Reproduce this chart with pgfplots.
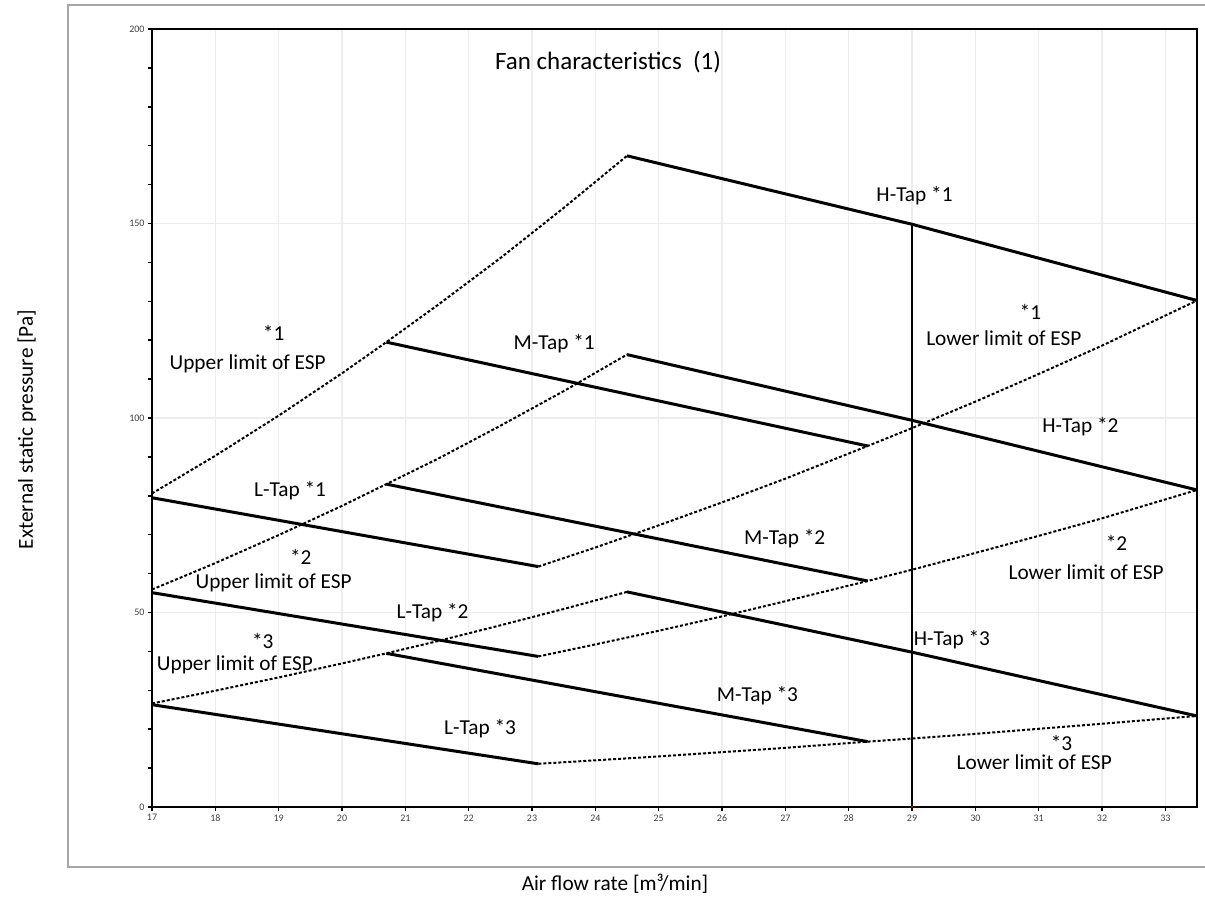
\documentclass[border=0pt]{standalone}
\usepackage{fontspec}
\setmainfont{Carlito}
\usepackage{pgfplots}
\pgfplotsset{compat=1.18}
\begin{document}
\begin{tikzpicture}[x=1pt,y=1pt,
  lbl/.style={font=\fontsize{21.3}{25}\selectfont, inner sep=0pt},
  tap/.style={black, line width=3pt},
  lim/.style={black, line width=2pt, dash pattern=on 3pt off 2pt}]
\path[use as bounding box] (0,0) rectangle (1205,902);
% outer chart frame
\draw[color=black!35, line width=1.3pt] (1206,35) -- (68,35) -- (68,897) -- (1206,897);
\begin{axis}[
  at={(152pt,95pt)}, anchor=south west,
  scale only axis, width=1045pt, height=778pt,
  xmin=17, xmax=33.5, ymin=0, ymax=200,
  xtick={17,...,33}, ytick={0,50,...,200},
  minor y tick num=4,
  tick pos=left, tick align=outside,
  major tick length=4pt, minor tick length=4pt,
  every tick/.style={black, line width=1.5pt},
  xmajorgrids, ymajorgrids,
  major grid style={color=black!7, line width=1.3pt},
  axis line style={line width=2.7pt},
  ticklabel style={font=\fontsize{10}{12}\selectfont, text=black!75},
  /pgf/number format/assume math mode=true,
  clip=false,
]
% L / M / H tap lines
\addplot[tap] coordinates {(17,79.5) (23.1,61.8)};
\addplot[tap] coordinates {(20.7,119.5) (28.3,92.8)};
\addplot[tap] coordinates {(24.5,167.4) (29,149.8) (33.5,130.2)};
\addplot[tap] coordinates {(17,55.1) (23.1,38.7)};
\addplot[tap] coordinates {(20.7,83.0) (28.3,58.1)};
\addplot[tap] coordinates {(24.5,116.3) (29,99.4) (33.5,81.5)};
\addplot[tap] coordinates {(17,26.3) (23.1,11.1)};
\addplot[tap] coordinates {(20.7,39.5) (28.3,16.8)};
\addplot[tap] coordinates {(24.5,55.3) (29,39.8) (33.5,23.4)};
% upper limits of ESP
\addplot[lim] coordinates {(17,80.6) (18,90.3) (19,100.6) (20,111.5) (20.7,119.5) (21.5,128.9) (22.5,141.1) (23.5,154.0) (24.5,167.4)};
\addplot[lim] coordinates {(17,55.9) (18,62.7) (19,69.9) (20,77.4) (20.7,83.0) (21.5,89.4) (22.5,98.0) (23.5,106.9) (24.5,116.3)};
\addplot[lim] coordinates {(17,26.6) (18,29.9) (19,33.3) (20,36.9) (20.7,39.5) (21.5,42.6) (22.5,46.7) (23.5,50.9) (24.5,55.3)};
% lower limits of ESP
\addplot[lim] coordinates {(23.1,61.8) (24,66.7) (25,72.4) (26,78.3) (27,84.4) (28.3,92.8) (29,97.4) (30,104.2) (31,111.3) (32,118.6) (33.5,130.2)};
\addplot[lim] coordinates {(23.1,38.7) (24,41.8) (25,45.3) (26,49.0) (27,52.9) (28.3,58.1) (29,61.0) (30,65.3) (31,69.7) (32,74.2) (33.5,81.5)};
\addplot[lim] coordinates {(23.1,11.1) (24,12.0) (25,13.0) (26,14.1) (27,15.2) (28.3,16.8) (29,17.6) (30,18.8) (31,20.1) (32,21.4) (33.5,23.4)};
% design point line
\addplot[black, line width=1.7pt] coordinates {(29,0) (29,149.8)};
\addplot[only marks, mark=*, mark size=1.2pt, color=red!70!black] coordinates {(29,0)};
% labels
\node[lbl, font=\fontsize{25}{29}\selectfont] at (axis cs:24.2,191.4) {Fan characteristics\ \ (1)};
\node[lbl] at (axis cs:29.04,157.2) {H-Tap *1};
\node[lbl] at (axis cs:30.87,127.3) {*1};
\node[lbl] at (axis cs:30.45,120.4) {Lower limit of ESP};
\node[lbl] at (axis cs:18.92,121.8) {*1};
\node[lbl] at (axis cs:18.51,114.0) {Upper limit of ESP};
\node[lbl] at (axis cs:23.35,119.0) {M-Tap *1};
\node[lbl] at (axis cs:31.66,97.8) {H-Tap *2};
\node[lbl] at (axis cs:19.18,81.4) {L-Tap *1};
\node[lbl] at (axis cs:26.99,69.0) {M-Tap *2};
\node[lbl] at (axis cs:19.35,64.3) {*2};
\node[lbl] at (axis cs:18.92,57.6) {Upper limit of ESP};
\node[lbl] at (axis cs:32.23,67.8) {*2};
\node[lbl] at (axis cs:31.75,60.3) {Lower limit of ESP};
\node[lbl] at (axis cs:21.43,50.0) {L-Tap *2};
\node[lbl] at (axis cs:18.75,42.7) {*3};
\node[lbl] at (axis cs:18.31,36.6) {Upper limit of ESP};
\node[lbl] at (axis cs:29.63,42.9) {H-Tap *3};
\node[lbl] at (axis cs:26.56,28.6) {M-Tap *3};
\node[lbl] at (axis cs:22.18,20.1) {L-Tap *3};
\node[lbl] at (axis cs:31.36,16.4) {*3};
\node[lbl] at (axis cs:30.93,11.5) {Lower limit of ESP};
\end{axis}
\node[lbl, rotate=90] at (27,472.5) {External static pressure [Pa]};
\node[lbl] at (615,18) {Air flow rate [m³/min]};
\end{tikzpicture}
\end{document}
